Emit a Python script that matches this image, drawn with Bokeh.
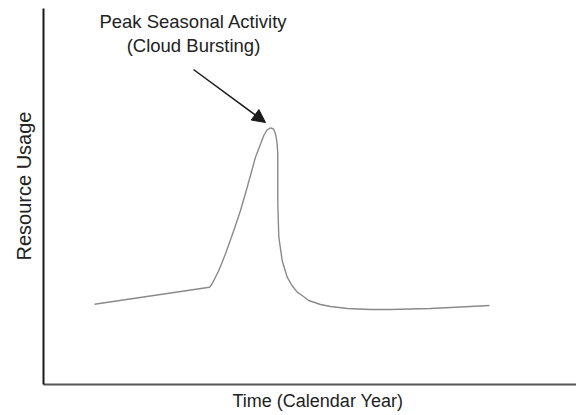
from bokeh.plotting import figure
from bokeh.models import Range1d, FixedTicker, Arrow, NormalHead, Label, Title
from bokeh.embed import file_html
from bokeh.resources import INLINE

# Time (arbitrary 0-100 scale) and resource usage (arbitrary 0-100 scale)
time = [9.57, 31.14, 31.65, 32.89, 34.15, 35.70, 36.96, 38.22, 39.77, 41.33, 41.93, 42.59,
        43.15, 43.53, 43.81, 43.96, 43.96, 43.96, 44.15, 44.78, 45.72, 46.62, 47.60, 48.78,
        49.77, 51.97, 53.85, 57.04, 61.35, 65.10, 68.86, 72.61, 78.24, 83.68]
usage = [21.36, 25.88, 26.78, 30.32, 34.76, 40.96, 46.28, 52.47, 60.45, 66.22, 67.69, 68.27,
         67.95, 66.68, 64.36, 61.44, 54.26, 48.14, 39.18, 32.98, 28.54, 26.33, 24.55, 23.40,
         22.34, 21.28, 20.74, 20.21, 19.95, 19.95, 20.08, 20.21, 20.61, 21.01]

annotation_lines = ["Peak Seasonal Activity", "(Cloud Bursting)"]
annotation_x = 28.14
annotation_y = [96.5, 90.1]
arrow_start = (28.14, 83.78)
arrow_end = (41.65, 69.68)

x_label = "Time (Calendar Year)"
y_label = "Resource Usage"

FONT = "Liberation Sans"

p = figure(width=576, height=415, output_backend="svg", toolbar_location=None,
           x_range=Range1d(0, 100), y_range=Range1d(0, 100),
           min_border_left=43, min_border_bottom=31, min_border_top=8, min_border_right=0)
p.outline_line_color = None
p.grid.visible = False
p.background_fill_color = "white"

for ax in (p.xaxis[0], p.yaxis[0]):
    ax.ticker = FixedTicker(ticks=[])
    ax.major_tick_out = 0
    ax.major_tick_in = 0
    ax.minor_tick_out = 0
    ax.minor_tick_in = 0
    ax.major_label_standoff = 0
    ax.axis_line_width = 2

p.xaxis.axis_line_color = "#555555"
p.yaxis.axis_line_color = "#1a1a1a"

p.line(time, usage, line_color="#8a8a8a", line_width=1.4)

p.add_layout(Arrow(end=NormalHead(size=13, fill_color="#1a1a1a", line_color="#1a1a1a"),
                   x_start=arrow_start[0], y_start=arrow_start[1],
                   x_end=arrow_end[0], y_end=arrow_end[1],
                   line_color="#1a1a1a", line_width=1.5))

for txt, yy in zip(annotation_lines, annotation_y):
    p.add_layout(Label(x=annotation_x, y=yy, text=txt, text_align="center",
                       text_baseline="alphabetic", text_font=FONT,
                       text_font_size="18.5px", text_color="#222222"))

# axis titles as side titles (allow offsetting along the axis)
p.add_layout(Title(text=x_label, align="left", offset=189, standoff=8,
                   text_font=FONT, text_font_size="18px", text_font_style="normal",
                   text_color="#222222"), "below")
p.add_layout(Title(text=y_label, align="left", offset=124, standoff=18,
                   text_font=FONT, text_font_size="20px", text_font_style="normal",
                   text_color="#222222"), "left")

open("out.html", "w").write(file_html(p, INLINE))
